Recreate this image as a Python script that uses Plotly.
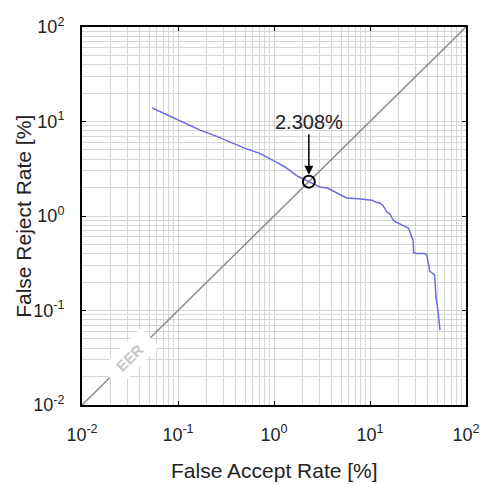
import math
import plotly.graph_objects as go

# Data
far = [0.054, 0.07, 0.089, 0.12, 0.17, 0.25, 0.37, 0.5, 0.71, 0.9, 1.07, 1.3, 1.47, 1.8,
       2.308, 2.7, 3.0, 3.6, 4.5, 5.7, 7.5, 9.3, 10.5, 11.5, 12.5, 13.6, 15.0, 16.1, 17.4,
       18.2, 20.0, 22.0, 24.9, 25.5, 28.1, 28.5, 31.0, 37.0, 39.0, 42.0, 45.0, 47.0, 49.0,
       51.0, 53.6]
frr = [13.9, 12.3, 10.9, 9.6, 8.1, 7.0, 5.9, 5.2, 4.6, 4.1, 3.7, 3.3, 3.0, 2.6,
       2.308, 2.15, 2.03, 1.98, 1.75, 1.55, 1.52, 1.5, 1.47, 1.4, 1.38, 1.3, 1.1, 1.05, 0.91,
       0.87, 0.83, 0.79, 0.75, 0.72, 0.55, 0.41, 0.40, 0.40, 0.39, 0.26, 0.25, 0.24, 0.13,
       0.10, 0.062]
diag = [0.01, 100]
eer_value = 2.308
eer_label = "2.308%"
eer_text_pos = 0.0316  # where the "EER" label sits on the diagonal

decades = [0.01, 0.1, 1, 10, 100]
decade_labels = ["10<sup>-2</sup>", "10<sup>-1</sup>", "10<sup>0</sup>", "10<sup>1</sup>", "10<sup>2</sup>"]
minor_vals = [m * d for d in [0.01, 0.1, 1, 10] for m in range(2, 10)]

FONT = "Liberation Sans, Arial"
grid_color = "#d6d6d6"
fig = go.Figure()
fig.add_trace(go.Scatter(x=diag, y=diag, mode="lines",
                         line=dict(color="#8a8a8a", width=1.5), hoverinfo="skip"))
fig.add_trace(go.Scatter(x=far, y=frr, mode="lines",
                         line=dict(color="#6a6ae6", width=1.5)))
fig.add_trace(go.Scatter(x=[eer_value], y=[eer_value], mode="markers",
                         marker=dict(symbol="circle-open", size=12, color="black",
                                     line=dict(width=2, color="black"))))

axis_common = dict(
    type="log", tickmode="array", tickvals=decades, ticktext=decade_labels,
    showgrid=True, gridcolor=grid_color, gridwidth=1,
    minor=dict(tickvals=minor_vals, showgrid=True, gridcolor=grid_color, gridwidth=1, ticks=""),
    showline=True, linecolor="black", linewidth=2, mirror="ticks",
    ticks="inside", ticklen=4, tickcolor="black",
    tickfont=dict(family=FONT, size=18, color="#222"),
    zeroline=False, automargin=False,
)
fig.update_xaxes(range=[-2, 2], ticklabelstandoff=12, **axis_common)
fig.update_yaxes(range=[-2, 2], ticklabelstandoff=12, **axis_common)

eer_log = math.log10(eer_value)
fig.add_annotation(x=eer_log, y=eer_log, xref="x", yref="y", text=eer_label,
                   showarrow=True, ax=0, ay=-60, arrowhead=2, arrowsize=1.2, arrowwidth=1.5,
                   arrowcolor="black", standoff=7,
                   font=dict(family=FONT, size=20, color="#222"))
lp = math.log10(eer_text_pos)
fig.add_annotation(x=lp, y=lp, xref="x", yref="y", text="<b>  EER  </b>", showarrow=False,
                   textangle=-45, bgcolor="white", borderpad=4,
                   font=dict(family=FONT, size=15, color="#c8c8c8"))
# axis titles
fig.add_annotation(x=0.5, y=-0.172, xref="paper", yref="paper", text="False Accept Rate [%]",
                   showarrow=False, xanchor="center", yanchor="middle",
                   font=dict(family=FONT, size=21, color="#222"))
fig.add_annotation(x=-0.154, y=0.5, xref="paper", yref="paper", text="False Reject Rate [%]",
                   showarrow=False, xanchor="center", yanchor="middle", textangle=-90,
                   font=dict(family=FONT, size=21, color="#222"))

fig.update_layout(width=480, height=484, margin=dict(l=82, r=14, t=27, b=79),
                  plot_bgcolor="white", paper_bgcolor="white", showlegend=False)
fig.write_html("out.html", config={"displayModeBar": False},
               post_script="document.body.style.margin='0';document.body.style.overflow='hidden';")
